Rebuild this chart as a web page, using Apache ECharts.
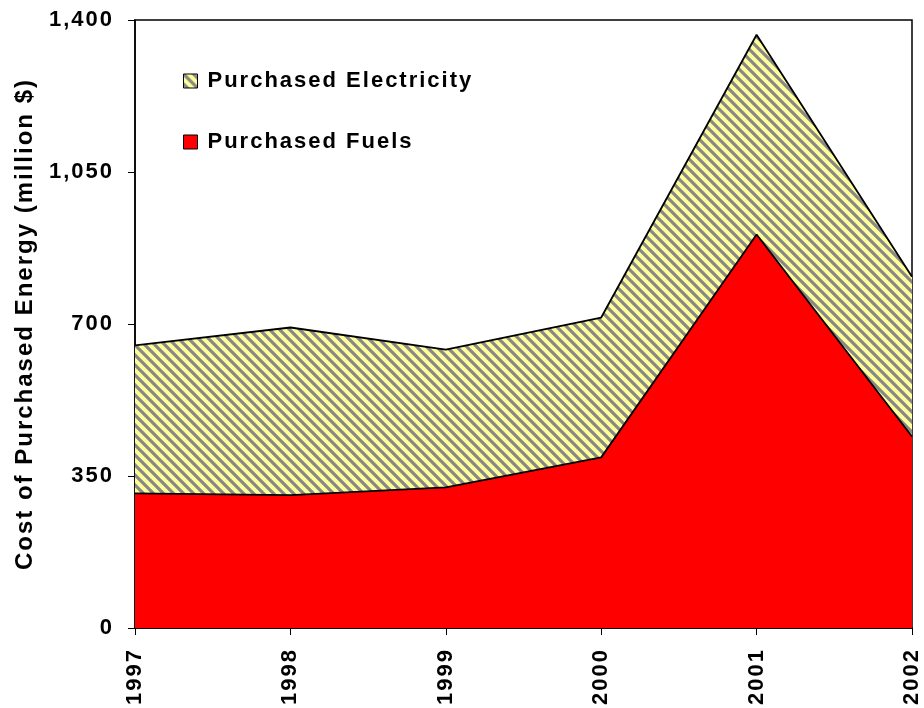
<!DOCTYPE html>
<html>
<head>
<meta charset="utf-8">
<script src="https://cdn.jsdelivr.net/npm/echarts@6/dist/echarts.min.js"></script>
<style>
  html, body { margin: 0; padding: 0; background: #fff; }
  #chart { width: 924px; height: 708px; }
</style>
</head>
<body>
<div id="chart"></div>
<script>
// 数据
var years = ["1997", "1998", "1999", "2000", "2001", "2002"];
var fuels = [310, 306, 324, 393, 906, 441];
var electricity = [341, 386, 317, 322, 460, 368];
var yTicks = [0, 350, 700, 1050, 1400];

// 原图文字字间距较宽，给画布文字加一点字距
(function () {
  var proto = CanvasRenderingContext2D.prototype;
  var fill = proto.fillText, measure = proto.measureText;
  proto.fillText = function () { this.letterSpacing = "2px"; return fill.apply(this, arguments); };
  proto.measureText = function () { this.letterSpacing = "2px"; return measure.apply(this, arguments); };
})();

// 斜线填充图案（黄底灰线）
function makeStripes() {
  var size = 10;
  var c = document.createElement("canvas");
  c.width = size;
  c.height = size;
  var ctx = c.getContext("2d");
  ctx.fillStyle = "#ffff99";
  ctx.fillRect(0, 0, size, size);
  ctx.strokeStyle = "#888888";
  ctx.lineWidth = 3.2;
  ctx.beginPath();
  ctx.moveTo(-size, -size); ctx.lineTo(size * 2, size * 2);
  ctx.moveTo(0, -size); ctx.lineTo(size * 2, size);
  ctx.moveTo(-size, 0); ctx.lineTo(size, size * 2);
  ctx.stroke();
  return c;
}
var stripe = { image: makeStripes(), repeat: "repeat" };

var font = "'Liberation Sans', Arial, sans-serif";

var myChart = echarts.init(document.getElementById("chart"));
var option = {
  animation: false,
  backgroundColor: "#fff",
  grid: {
    left: 135,
    right: 12,
    top: 20,
    bottom: 79,
    show: true,
    borderColor: "#000",
    borderWidth: 1.5,
    backgroundColor: "transparent"
  },
  legend: {
    orient: "vertical",
    left: 178,
    top: 64,
    itemGap: 37,
    itemWidth: 14,
    itemHeight: 14,
    icon: "rect",
    data: ["Purchased Electricity", "Purchased Fuels"],
    itemStyle: { borderColor: "#000", borderWidth: 1 },
    textStyle: { fontFamily: font, fontWeight: "bold", fontSize: 22, color: "#000", padding: [0, 0, 0, 5] }
  },
  xAxis: {
    type: "category",
    data: years,
    boundaryGap: false,
    axisLine: { lineStyle: { color: "#000", width: 1.5 } },
    axisTick: { show: true, length: 7, lineStyle: { color: "#000" }, alignWithLabel: true },
    axisLabel: {
      rotate: 90,
      margin: 20,
      fontFamily: font,
      fontWeight: "bold",
      fontSize: 22,
      color: "#000"
    }
  },
  yAxis: {
    type: "value",
    min: yTicks[0],
    max: yTicks[yTicks.length - 1],
    interval: 350,
    name: "Cost of Purchased Energy (million $)",
    nameLocation: "middle",
    nameGap: 95,
    nameTextStyle: { fontFamily: font, fontWeight: "bold", fontSize: 24, color: "#000" },
    axisLine: { show: true, lineStyle: { color: "#000", width: 1.5 } },
    axisTick: { show: true, length: 7, lineStyle: { color: "#000" } },
    splitLine: { show: false },
    axisLabel: {
      margin: 21,
      fontFamily: font,
      fontWeight: "bold",
      fontSize: 22,
      color: "#000",
      formatter: function (v) { return v.toLocaleString("en-US"); }
    }
  },
  series: [
    {
      name: "Purchased Fuels",
      type: "line",
      stack: "total",
      data: fuels,
      symbol: "none",
      itemStyle: { color: "#ff0000" },
      lineStyle: { color: "#000", width: 1.8 },
      areaStyle: { color: "#ff0000", opacity: 1 },
      z: 3
    },
    {
      name: "Purchased Electricity",
      type: "line",
      stack: "total",
      data: electricity,
      symbol: "none",
      itemStyle: { color: stripe },
      lineStyle: { color: "#000", width: 1.8 },
      areaStyle: { color: stripe, opacity: 1 },
      z: 2
    }
  ]
};
myChart.setOption(option);
</script>
</body>
</html>
